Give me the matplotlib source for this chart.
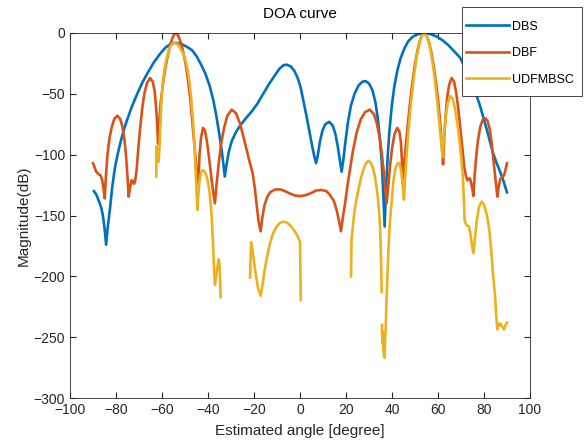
import numpy as np
import matplotlib
matplotlib.use("Agg")
import matplotlib.pyplot as plt
from matplotlib.patches import Rectangle

plt.rcParams['font.family'] = ['Liberation Sans', 'DejaVu Sans']

# DBS curve (angle, dB)
dbs_x = [-89.6, -88.5, -87.5, -86.5, -85.7, -85, -84.3, -83.6, -82.6, -81.6, -80.5, -79.2, -77.8,
         -76.5, -75, -73, -71, -68.5, -66, -63.5, -61, -58.5, -56.3, -54.3, -52, -49.5, -47, -45,
         -43, -41, -39.2, -37.6, -36.3, -35.1, -34, -33.3, -32.7, -32, -31, -29.7, -28, -26,
         -23.5, -21, -18.5, -16, -13.5, -11, -9, -7.2, -5.8, -4, -2.5, -1, 0.3, 1.5, 2.8, 4,
         5.2, 6.3, 7, 7.7, 8.7, 9.8, 11, 12.7, 14.2, 15.4, 16.4, 17.3, 18.1, 18.8, 19.7, 20.8,
         22.1, 23.7, 25.5, 27.2, 28.5, 30, 31.5, 32.8, 33.8, 34.7, 35.5, 36.1, 36.8, 37.4,
         38.1, 38.9, 39.9, 41, 42.3, 43.7, 45.3, 47, 49, 51.5, 54.3, 57, 59.5, 62, 64.5, 67,
         69.5, 72, 74.5, 76.5, 78.3, 79.8, 81.3, 82.7, 84, 85.5, 86.8, 88, 89, 90]
dbs_y = [-130, -133, -138, -143, -150, -160, -174, -160, -144, -126, -111, -99, -88,
         -79, -70.5, -60, -51, -40.5, -32, -24, -17.5, -12, -9, -8, -8.7, -11, -14, -19,
         -26, -34, -44, -56, -69, -83, -97, -108, -118, -109, -98, -89, -82, -76,
         -70, -64.5, -58, -50, -42, -35, -29.5, -26.5, -26, -27.5, -31, -37, -45, -56, -68, -80,
         -92, -102, -107, -101, -89, -80, -75, -73, -76, -83, -93, -104, -114, -105, -90, -74,
         -60, -50, -43, -40, -39.5, -41.5, -47, -57, -70, -86, -105, -128, -159, -128,
         -102, -80, -60, -44, -31, -21, -13, -7, -3, -0.8, 0, -1, -3, -6, -10, -15,
         -20, -29, -40, -50, -60, -70, -80, -90, -99, -107, -113, -119, -125, -131]

# DBF curve
dbf_x = [-90, -89.2, -88.6, -87.6, -86.7, -86, -85.4, -84.9,
         -84.4, -83.7, -82.8, -81.8, -80.7, -79.4, -78.2, -77.2, -76.3, -75.6, -75, -74.5,
         -73.8, -73.2, -72.6, -72.2, -71.7,
         -71, -70.3, -69.5, -68.6, -67.6, -66.5, -65.2, -64, -63.2, -62.6, -62.1, -61.7,
         -61.2, -60.5, -59.6, -58.5, -57.3, -56.2, -55, -54, -53, -51.8, -50.7, -49.6, -48.6,
         -47.6, -46.7, -45.8, -45, -44.2,
         -43.7, -43, -42.2, -41.3, -40.4, -39.5, -38.6, -37.8, -37,
         -36.3, -35.4, -34.3, -33, -31.6, -29.7, -27.8, -26, -24.5, -23.2, -21.9, -20.6, -19.6,
         -18.8, -18, -17.1,
         -16.4, -15.5, -14.3, -13, -11, -8.7, -6.5, -4.3, -2, 0, 2, 4.3, 7, 9.4, 11.5, 13, 14.7,
         16, 17, 17.8,
         18.6, 19.6, 20.6, 21.7, 23, 24.6, 26.4, 28.3, 30.4, 32.2, 33.5, 34.6, 35.5, 36.3, 37,
         37.7,
         38.4, 39.2, 40.1, 41.1, 42.3, 43.2, 43.9, 44.3, 44.6,
         45.2, 46, 46.9, 47.8, 48.8, 49.8, 50.9, 52, 53, 54, 55, 56, 57.1, 58.2, 59.2, 60.2, 61,
         61.7, 62.2,
         62.7, 63.3, 64, 64.8, 65.9, 67, 67.9, 68.8, 69.7, 70.6, 71.4, 72.2,
         72.8, 73.3, 73.9, 74.5, 75, 75.4,
         75.9, 76.6, 77.4, 78.4, 79.4, 80.4, 81.5, 82.5, 83.3, 84.1, 84.9, 85.8,
         86.4, 87.1, 87.9, 88.7, 89.4, 90]
dbf_y = [-107, -111, -114, -116, -117, -121, -128, -136,
         -118, -100, -86, -77, -70.5, -68, -70.5, -77, -88, -102, -118, -134.5,
         -126, -121, -122, -124, -122,
         -112, -95, -78, -62, -49, -41, -37, -40, -48, -60, -75, -91,
         -72, -56, -42, -28, -17, -8, -2, 0, -2, -8, -16, -27, -40,
         -56, -75, -95, -112, -124,
         -100, -86, -78, -80, -90, -103, -118, -130, -140,
         -125, -108, -91, -78, -68, -63, -66, -75, -86, -96, -106, -115, -128,
         -142, -155, -163,
         -152, -142, -135, -131, -128.7, -128.5, -130, -132, -133.7, -134, -133.5, -132, -129.5,
         -129, -130, -133, -138, -146, -155, -163,
         -152, -140, -126, -112.6, -97, -82, -71, -65, -63, -67, -75, -86, -98, -112, -126,
         -140,
         -125, -108, -94, -83, -78, -81, -90, -104, -124,
         -110, -93, -75, -58, -42, -28, -16, -7, -2, 0, -2, -7, -16, -28, -42, -58, -75,
         -92, -108,
         -86, -68, -53, -43, -37, -40, -49, -62, -78, -95, -110, -118,
         -121, -120, -119.5, -124, -129, -134,
         -118, -102, -88, -77, -71.5, -70, -72, -79, -90, -104, -118, -134.5,
         -126, -120, -118, -117, -112, -107]

# UDFMBSC curve (nan = gap)
nan = np.nan
udf_x = [-62.5, -62.4, -61.9, -61.5, -61.1, -60.7, -60.2, -59.6, -58.8, -57.9, -56.9, -55.8,
         -54.5, -53.3, -52.2, -51, -50, -49, -48.1, -47.3, -46.6, -46, -45.5, -45, -44.6,
         -44.1, -43.6, -42.9, -42.2, -41.4, -40.6, -39.9, -39.3, -38.7, -38.2, -37.7, -37.3,
         -37, -36.5, -35.9, -35.3, -35.0, -34.7, -34.5, nan,
         -21.7, -21.3, -20.7, -20, -19.2, -18.2, -17.1, -16.3, -15.4, -14.5, -13.3, -12, -10.5,
         -9, -7.3, -5.5, -3.8, -2.3, -1, 0, 0.35, nan,
         22.2, 22.4, 22.9, 23.6, 24.4, 25.3, 26.4, 27.6, 28.7, 29.7, 30.7, 31.7, 32.6, 33.4,
         34.1, 34.7, 35.1, 35.35, 35.5, nan,
         35.6, 35.8, 36.0, 36.3, 36.7, 37.2, 37.8, 38.4, 39.1, 39.9, 40.6, 41.4, 42.3, 43.2,
         44, 44.6, 45.2, 45.7, 46.3, 47, 47.8, 48.8, 49.8, 50.9, 52, 53, 54, 55, 56, 57.1,
         58.2, 59.2, 60.2, 61.1, 62, 62.6, 63.3, 64.2, 65.3, 66.4, 67.4, 68.4, 69.3, 70.2,
         70.8, 71.2, 71.6, 72.5, 73.4, 74.1, 74.8, 75.4, 76, 76.8, 77.8, 79, 80.2, 81.3, 82.3,
         83.2, 84, 84.8, 85.3, 85.8, 86.4, 87, 87.8, 88.7, 89.4, 90]
udf_y = [-118, -93, -100, -106, -95, -75, -55, -40, -28, -20, -13, -9.5,
         -8, -9, -12, -16, -21, -29, -40, -54, -70, -88, -108, -128, -145.5,
         -130, -120, -114, -112.6, -114, -118, -123.5, -132, -143, -158, -178, -196,
         -207, -201, -192, -186, -190, -205, -217, nan,
         -201, -172, -178, -188, -199, -210, -216, -207, -195, -186, -175, -166, -160,
         -156.5, -155, -156, -159, -163, -167, -171.5, -219.5, nan,
         -200, -170, -160, -148, -138, -130, -120, -112, -107, -105, -106.5, -111, -118, -128,
         -140, -155, -175, -195, -213, nan,
         -240, -255, -246, -262, -267, -245, -210, -180, -155, -137, -122, -112, -107.5, -107,
         -113, -124, -137, -120, -102, -84, -66, -48, -32, -18, -8, -2, 0, -2, -8, -18,
         -32, -48, -66, -84, -102, -84, -70, -58, -52, -54, -62, -74, -88, -104,
         -118, -135, -155, -158, -159, -165, -175, -181, -170, -155, -143, -138.6, -142, -150, -162,
         -180, -200, -216, -232, -243.6, -240, -238.6, -241, -243.6, -240, -238]

W, H = 584, 441
fig = plt.figure(figsize=(W / 100, H / 100), dpi=100)
ax = fig.add_axes([70 / W, 43 / H, 460 / W, 365 / H])

ax.plot(dbs_x, dbs_y, color='#0072BD', lw=1.9, label='DBS')
ax.plot(dbf_x, dbf_y, color='#D95319', lw=1.9, label='DBF')
ax.plot(udf_x, udf_y, color='#EDB120', lw=1.9, label='UDFMBSC')

ax.set_xlim(-100, 100)
ax.set_ylim(-300, 0)
ax.set_xticks(np.arange(-100, 101, 20))
ax.set_yticks(np.arange(-300, 1, 50))
ax.tick_params(direction='in', top=True, right=True, labelsize=10, colors='#262626', length=4)
for s in ax.spines.values():
    s.set_color('#262626')
    s.set_linewidth(0.6)

ax.set_title('DOA curve', fontsize=11, color='black', pad=11)
ax.set_xlabel('Estimated angle [degree]', fontsize=11, color='#262626', labelpad=5)
ax.set_ylabel('Magnitude(dB)', fontsize=11, color='#262626', labelpad=2)

# legend box (MATLAB style, partly outside the axes)
box = Rectangle((462 / W, 1 - 96 / H), 120 / W, 89 / H, transform=fig.transFigure,
                facecolor='white', edgecolor='#262626', linewidth=0.6, zorder=5)
fig.add_artist(box)
leg = fig.legend(loc='upper left', bbox_to_anchor=(466 / W, 1 - 20.5 / H), fontsize=9,
                 frameon=False, handlelength=3.45, handletextpad=0.25, labelspacing=1.17,
                 borderpad=0, borderaxespad=0)
leg.set_zorder(6)

fig.savefig('out.png', dpi=100)
